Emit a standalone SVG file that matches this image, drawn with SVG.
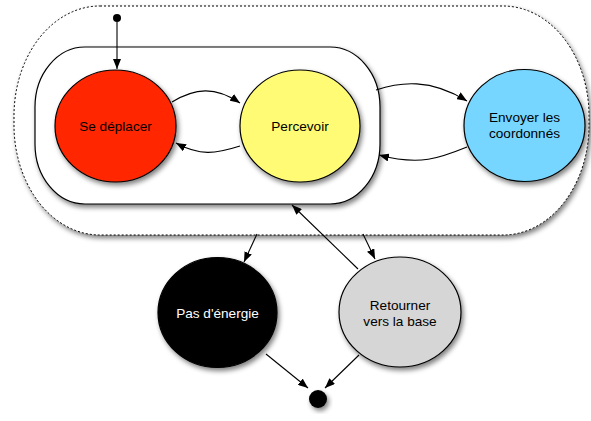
<svg xmlns="http://www.w3.org/2000/svg" width="591" height="421" viewBox="0 0 591 421">
<defs>
<filter id="sh" x="-20%" y="-20%" width="150%" height="150%">
<feGaussianBlur in="SourceAlpha" stdDeviation="2.5"/>
<feOffset dx="2" dy="3" result="b"/>
<feComponentTransfer><feFuncA type="linear" slope="0.5"/></feComponentTransfer>
<feMerge><feMergeNode/><feMergeNode in="SourceGraphic"/></feMerge>
</filter>
<marker id="ah" viewBox="0 0 10 8" refX="10" refY="4" markerWidth="10" markerHeight="8" markerUnits="userSpaceOnUse" orient="auto">
<path d="M0,0 L10,4 L0,8 Z" fill="#000"/>
</marker>
</defs>
<style>
.st{stroke:#000;stroke-width:1.2}
.lbl{font-family:"Liberation Sans",Arial,sans-serif;font-size:13.6px;text-anchor:middle;dominant-baseline:central;fill:#000}
.conn path{fill:none;stroke:#000;stroke-width:1.1;marker-end:url(#ah)}
</style>
<rect width="591" height="421" fill="#fff"/>
<g id="outer">
<rect x="14" y="6" width="575" height="229" rx="86" ry="110" fill="#fff" stroke="#000" stroke-width="1" stroke-dasharray="2,2" filter="url(#sh)"/>
</g>
<g id="inner">
<rect x="35" y="47" width="345" height="157" rx="50" ry="60" fill="#fff" class="st" filter="url(#sh)"/>
</g>
<g id="start"><circle cx="117" cy="18" r="4" fill="#000"/></g>
<g id="se-deplacer">
<ellipse cx="115.5" cy="126" rx="60.5" ry="56" fill="#ff2600" class="st" filter="url(#sh)"/>
<text class="lbl" x="115.5" y="126">Se déplacer</text>
</g>
<g id="percevoir">
<ellipse cx="300" cy="126" rx="60" ry="56" fill="#fffb74" class="st" filter="url(#sh)"/>
<text class="lbl" x="300" y="126">Percevoir</text>
</g>
<g id="envoyer">
<ellipse cx="524.5" cy="125.5" rx="60.5" ry="56" fill="#76d6ff" class="st" filter="url(#sh)"/>
<text class="lbl" x="524.5" y="117">Envoyer les</text>
<text class="lbl" x="524.5" y="133">coordonnés</text>
</g>
<g id="pas-energie">
<ellipse cx="217.5" cy="312.5" rx="59.5" ry="55" fill="#000" class="st" filter="url(#sh)"/>
<text class="lbl" x="217.5" y="313" style="fill:#fff">Pas d'énergie</text>
</g>
<g id="retourner">
<ellipse cx="400" cy="312" rx="61" ry="55" fill="#d6d6d6" class="st" filter="url(#sh)"/>
<text class="lbl" x="400" y="305">Retourner</text>
<text class="lbl" x="400" y="321">vers la base</text>
</g>
<g id="end"><circle cx="318" cy="399" r="9" fill="#000" filter="url(#sh)"/></g>
<g id="connectors" class="conn">
<path d="M117,22 L117,69"/>
<path d="M172,102 C195,88 215,86 240,103"/>
<path d="M240,146 C215,154 200,156 176,143"/>
<path d="M376,90 C400,82 430,78 467,101"/>
<path d="M467,147 C440,158 420,166 379,155"/>
<path d="M257,234 L244,262"/>
<path d="M363,234 L375,259"/>
<path d="M358,269 L292,205"/>
<path d="M266,354 L308,388"/>
<path d="M359,355 L325,388"/>
</g>
</svg>
